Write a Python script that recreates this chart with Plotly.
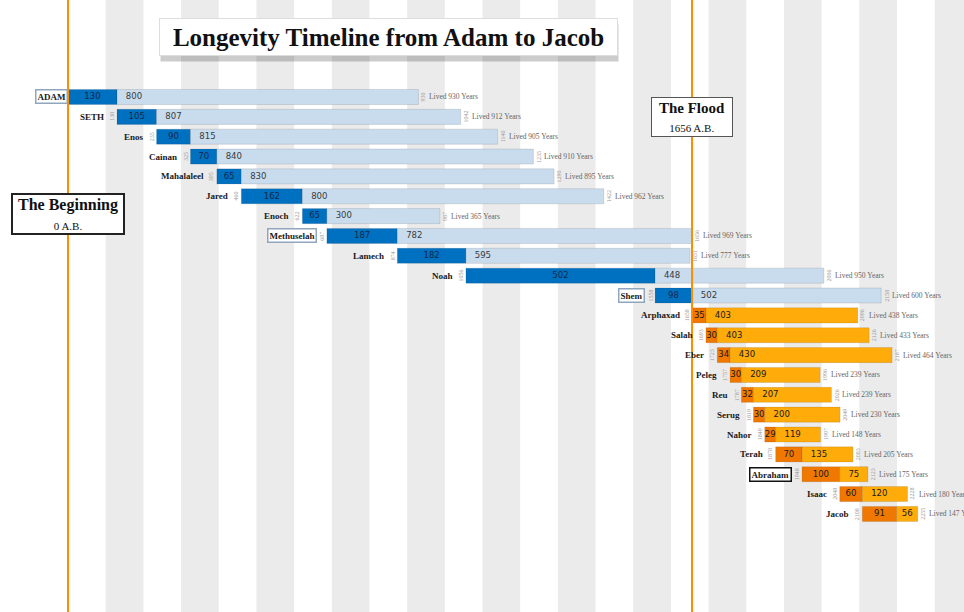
import plotly.graph_objects as go

# patriarchs from Adam to Jacob (years after the beginning, "A.B.")
names = ["ADAM", "SETH", "Enos", "Cainan", "Mahalaleel", "Jared", "Enoch", "Methuselah",
         "Lamech", "Noah", "Shem", "Arphaxad", "Salah", "Eber", "Peleg", "Reu", "Serug",
         "Nahor", "Terah", "Abraham", "Isaac", "Jacob"]
born = [0, 130, 235, 325, 395, 460, 622, 687, 874, 1056, 1558,
        1658, 1693, 1723, 1757, 1787, 1819, 1849, 1878, 1948, 2048, 2108]
begat = [130, 105, 90, 70, 65, 162, 65, 187, 182, 502, 98,
         35, 30, 34, 30, 32, 30, 29, 70, 100, 60, 91]
after_begat = [800, 807, 815, 840, 830, 800, 300, 782, 595, 448, 502,
               403, 403, 430, 209, 207, 200, 119, 135, 75, 120, 56]
lived = [930, 912, 905, 910, 895, 962, 365, 969, 777, 950, 600,
         438, 433, 464, 239, 239, 230, 148, 205, 175, 180, 147]
era = ["pre"] * 11 + ["post"] * 11
boxed = {"ADAM": "#8fa6bd", "Methuselah": "#8fa6bd", "Shem": "#8fa6bd", "Abraham": "#111111"}

events = ["The Beginning", "The Flood"]
event_years = [0, 1656]
event_labels = ["0 A.B.", "1656 A.B."]

title = "Longevity Timeline from Adam to Jacob"

dark = {"pre": "#0070c0", "post": "#f07800"}
light = {"pre": "#c8dcee", "post": "#ffac0a"}
dark_txt = {"pre": "#14284a", "post": "#1a1a1a"}

died = [b + l for b, l in zip(born, lived)]
second_start = [b + g for b, g in zip(born, begat)]

SERIF = "Liberation Serif, Times New Roman, serif"
NARROW = "Liberation Sans Narrow, DejaVu Sans Condensed, Arial Narrow, sans-serif"

fig = go.Figure()

# age when the son was born
fig.add_trace(go.Bar(
    y=names, x=begat, base=born, orientation="h", width=0.76,
    marker=dict(color=[dark[e] for e in era], line=dict(width=0.6, color="rgba(0,0,0,0.18)")),
    hoverinfo="skip"))
# rest of the life
fig.add_trace(go.Bar(
    y=names, x=after_begat, base=second_start, orientation="h", width=0.76,
    marker=dict(color=[light[e] for e in era], line=dict(width=0.6, color="rgba(0,0,0,0.18)")),
    hoverinfo="skip"))

# numbers inside the bars
fig.add_trace(go.Scatter(
    y=names, x=[b + g / 2 for b, g in zip(born, begat)], mode="text",
    text=[str(g) for g in begat],
    textfont=dict(family=NARROW, size=9.5, color=[dark_txt[e] for e in era]),
    hoverinfo="skip"))
fig.add_trace(go.Scatter(
    y=names, x=[min(s + 45, s + r / 2) for s, r in zip(second_start, after_begat)], mode="text",
    text=[str(r) for r in after_begat],
    textfont=dict(family=NARROW, size=9.5, color=["#3a3a3a" if e == "pre" else "#1a1a1a" for e in era]),
    hoverinfo="skip"))

annotations = []
for n, b, d, l in zip(names, born, died, lived):
    if n in boxed:
        annotations.append(dict(x=b, y=n, text="<b>%s</b>" % n, showarrow=False, xanchor="right",
                                xshift=0 if b == 0 else -10, bgcolor="white", bordercolor=boxed[n],
                                borderwidth=1.5, borderpad=1,
                                font=dict(family=SERIF, size=9, color="#1a1a1a")))
    else:
        annotations.append(dict(x=b, y=n, text="<b>%s</b>" % n, showarrow=False, xanchor="right",
                                xshift=-11, font=dict(family=SERIF, size=9, color="#1a1a1a")))
    if b > 0:
        annotations.append(dict(x=b, y=n, text=str(b), showarrow=False, textangle=-90,
                                xshift=-5, font=dict(family=SERIF, size=6, color="#999999")))
    annotations.append(dict(x=d, y=n, text=str(d), showarrow=False, textangle=-90,
                            xshift=5, font=dict(family=SERIF, size=6, color="#999999")))
    annotations.append(dict(x=d, y=n, text="Lived %d Years" % l, showarrow=False, xanchor="left",
                            xshift=9, font=dict(family=SERIF, size=7.5, color="#666666")))

# event boxes
ev_y = [1 - 213.5 / 612, 1 - 117 / 612]
ev_w = [106, 76]
ev_size = [16, 15]
ev_border = [("#222222", 2), ("#555555", 1)]
for ev, yr, lab, yy, w, fs, (bc, bw) in zip(events, event_years, event_labels, ev_y, ev_w, ev_size, ev_border):
    annotations.append(dict(x=yr, xref="x", y=yy, yref="paper", showarrow=False,
                            xanchor="center", yanchor="middle",
                            text="<b>%s</b><br><span style='font-size:11px'>%s</span>" % (ev, lab),
                            font=dict(family=SERIF, size=fs, color="#111111"),
                            bgcolor="white", bordercolor=bc, borderwidth=bw, borderpad=2,
                            width=w, height=34))

# title with a soft shadow
annotations.append(dict(x=388 / 964, y=1 - 40 / 612, xref="paper", yref="paper", showarrow=False,
                        xanchor="center", yanchor="middle",
                        text=" ", width=455, height=34, bgcolor="rgba(0,0,0,0.2)",
                        xshift=1, yshift=-3))
annotations.append(dict(x=388 / 964, y=1 - 37 / 612, xref="paper", yref="paper", showarrow=False,
                        xanchor="center", yanchor="middle",
                        text="<b>%s</b>" % title, width=455, height=34, bgcolor="white",
                        bordercolor="#dddddd", borderwidth=1,
                        font=dict(family=SERIF, size=25, color="#111111")))

# background stripes every 200 years
shapes = []
for x0 in range(100, 2400, 200):
    shapes.append(dict(type="rect", xref="x", yref="paper", x0=x0, x1=x0 + 100, y0=0, y1=1,
                       fillcolor="#ebebeb", line=dict(width=0), layer="below"))
for yr in event_years:
    shapes.append(dict(type="line", xref="x", yref="paper", x0=yr, x1=yr, y0=0, y1=1,
                       line=dict(color="#ff8c00", width=2), layer="above"))

fig.update_layout(
    width=964, height=612,
    margin=dict(l=0, r=0, t=0, b=0),
    paper_bgcolor="white", plot_bgcolor="white",
    barmode="overlay", showlegend=False,
    xaxis=dict(range=[-180.5, 2377.8], visible=False, showgrid=False, zeroline=False),
    yaxis=dict(range=[25.94, -4.885], visible=False, showgrid=False, zeroline=False,
               categoryorder="array", categoryarray=names),
    shapes=shapes, annotations=annotations,
)

fig.write_html("out.html", config={"displayModeBar": False},
               post_script="document.body.style.margin='0';document.body.style.overflow='hidden';")
